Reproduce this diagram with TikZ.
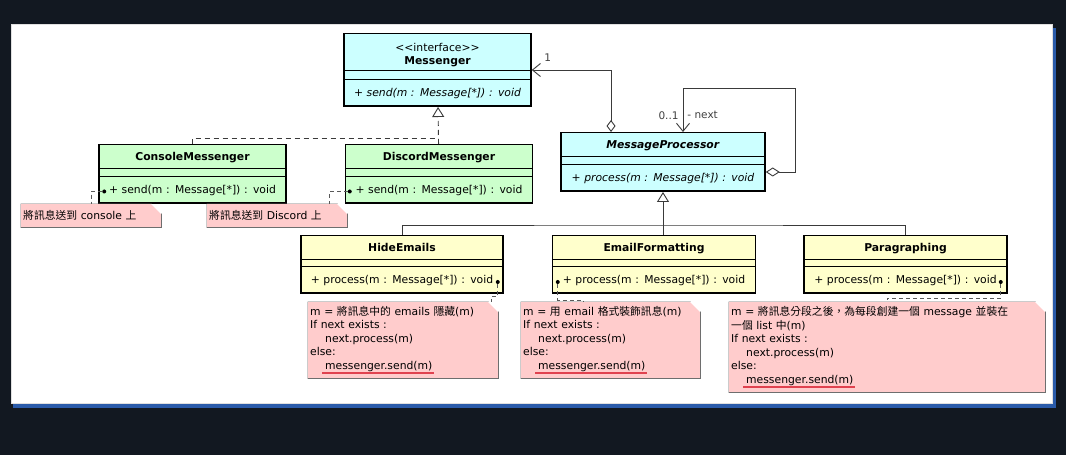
\documentclass[tikz,border=0pt]{standalone}
\usepackage{fontspec}
\setmainfont{DejaVu Sans}
\newfontfamily\hanfont{Noto Sans CJK TC}
\usetikzlibrary{positioning,shapes.multipart,arrows.meta}

\definecolor{pagebg}{HTML}{121821}
\definecolor{panelblue}{HTML}{2A5BAA}
\definecolor{ifacefill}{HTML}{CCFFFF}
\definecolor{implfill}{HTML}{CCFFCC}
\definecolor{procfill}{HTML}{FFFFCC}
\definecolor{notefill}{HTML}{FFCCCC}
\definecolor{notedraw}{HTML}{6E6E6E}
\definecolor{linkgray}{HTML}{3A3A3A}
\definecolor{squiggle}{HTML}{E0424F}

\newcommand\hdstrut{\rule[-7pt]{0pt}{22pt}}
\newcommand\opstrut{\rule[-8.5pt]{0pt}{25pt}}
\newsavebox\markbox
\newcommand\redmark[1]{\sbox\markbox{#1}\rlap{\kern-3pt\textcolor{squiggle}{\rule[-5pt]{\dimexpr\wd\markbox+5pt\relax}{2pt}}}\usebox\markbox}

\begin{document}
\begin{tikzpicture}[x=1pt, y=1pt, node distance=48pt,
  cls/.style={rectangle split, rectangle split parts=3, rectangle split draw splits=false,
    draw=black, line width=1.5pt, text width=#1, align=center, inner xsep=0pt, inner ysep=0pt,
    font=\fontsize{10.8}{13}\selectfont},
  sepline/.style={draw=black, line width=0.7pt},
  dot/.style={circle, fill=black, inner sep=0pt, minimum size=4pt},
  link/.style={draw=linkgray, line width=0.9pt},
  realize/.style={link, dash pattern=on 5pt off 4pt},
  notelink/.style={draw=black!65, line width=0.8pt, dash pattern=on 4pt off 3pt},
  mult/.style={inner sep=0pt, text=black!75, font=\fontsize{10.5}{12}\selectfont},
  note/.style={fill=notefill, align=left, anchor=north west, inner xsep=2pt, inner ysep=0pt,
    font=\fontsize{10.8}{13.5}\selectfont,
    path picture={\fill[white] ([xshift=-10pt]path picture bounding box.north east) -- (path picture bounding box.north east) -- ([yshift=-10pt]path picture bounding box.north east) -- cycle;},
    append after command={\pgfextra{\draw[draw=notedraw, line width=0.8pt]
      (\tikzlastnode.north west) -- ([xshift=-10pt]\tikzlastnode.north east) -- ([yshift=-10pt]\tikzlastnode.north east) -- (\tikzlastnode.south east) -- (\tikzlastnode.south west) -- cycle
      ([xshift=-10pt]\tikzlastnode.north east) |- ([yshift=-10pt]\tikzlastnode.north east);}}}]

% backdrop
\fill[pagebg] (0,0) rectangle (1066,455);
\fill[panelblue] (13,47) rectangle (1056,427);
\filldraw[fill=white, draw=black!12, line width=0.6pt] (11,52) rectangle (1052,431);

% interface and its implementations
\node[cls=187pt, fill=ifacefill, anchor=north] (msgr) at (437.5,422)
  {\rule{0pt}{17pt}<{}<interface>{}>\\\textbf{Messenger}\rule[-5pt]{0pt}{5pt}\nodepart{two}\rule{0pt}{8pt}\nodepart{three}\opstrut\textit{+ send(m : Message[*]) : void}};
\node[cls=187pt, fill=implfill, anchor=north] (console) at (192.5,311)
  {\hdstrut\textbf{ConsoleMessenger}\nodepart{two}\rule{0pt}{7pt}\nodepart{three}\opstrut+ send(m : Message[*]) : void};
\node[cls=187pt, fill=implfill, right=58pt of console] (discord)
  {\hdstrut\textbf{DiscordMessenger}\nodepart{two}\rule{0pt}{7pt}\nodepart{three}\opstrut+ send(m : Message[*]) : void};

% processor chain
\node[cls=204pt, fill=ifacefill, anchor=north] (mp) at (663,323)
  {\hdstrut\textbf{\textit{MessageProcessor}}\nodepart{two}\rule{0pt}{7pt}\nodepart{three}\opstrut\textit{+ process(m : Message[*]) : void}};
\node[cls=202pt, fill=procfill, anchor=north] (hide) at (402,220)
  {\hdstrut\textbf{HideEmails}\nodepart{two}\rule{0pt}{6pt}\nodepart{three}\opstrut+ process(m : Message[*]) : void};
\node[cls=203pt, fill=procfill, right=of hide] (email)
  {\hdstrut\textbf{EmailFormatting}\nodepart{two}\rule{0pt}{6pt}\nodepart{three}\opstrut+ process(m : Message[*]) : void};
\node[cls=203pt, fill=procfill, right=47pt of email] (para)
  {\hdstrut\textbf{Paragraphing}\nodepart{two}\rule{0pt}{6pt}\nodepart{three}\opstrut+ process(m : Message[*]) : void};

\draw[sepline] (msgr.text split west) -- (msgr.text split east) (msgr.two split west) -- (msgr.two split east);
\draw[sepline] (console.text split west) -- (console.text split east) (console.two split west) -- (console.two split east);
\draw[sepline] (discord.text split west) -- (discord.text split east) (discord.two split west) -- (discord.two split east);
\draw[sepline] (mp.text split west) -- (mp.text split east) (mp.two split west) -- (mp.two split east);
\draw[sepline] (hide.text split west) -- (hide.text split east) (hide.two split west) -- (hide.two split east);
\draw[sepline] (email.text split west) -- (email.text split east) (email.two split west) -- (email.two split east);
\draw[sepline] (para.text split west) -- (para.text split east) (para.two split west) -- (para.two split east);

% note anchors on the methods
\node[dot] (consdot) at ([shift={(6pt,12.5pt)}]console.south west) {};
\node[dot] (discdot) at ([shift={(5pt,12.5pt)}]discord.south west) {};
\node[dot] (hidedot) at ([shift={(-6pt,12pt)}]hide.south east) {};
\node[dot] (emaildot) at ([shift={(6pt,12pt)}]email.south west) {};
\node[dot] (paradot) at ([shift={(-7pt,12pt)}]para.south east) {};

% notes
\node[note, text width=136pt, minimum height=23pt] (consnote) at (21,251) {{\hanfont 將訊息送到} console {\hanfont 上}};
\node[note, text width=136pt, minimum height=23pt] (discnote) at (207,251) {{\hanfont 將訊息送到} Discord {\hanfont 上}};
\node[note, text width=186pt, minimum height=76pt] (hidenote) at (308,153)
  {m = {\hanfont 將訊息中的} emails {\hanfont 隱藏}(m)\\If next exists :\\\hspace*{15pt}next.process(m)\\else:\\\hspace*{15pt}\redmark{messenger.send(m)}};
\node[note, text width=175pt, minimum height=76pt] (emailnote) at (521,153)
  {m = {\hanfont 用} email {\hanfont 格式裝飾訊息}(m)\\If next exists :\\\hspace*{15pt}next.process(m)\\else:\\\hspace*{15pt}\redmark{messenger.send(m)}};
\node[note, text width=312pt, minimum height=90pt] (paranote) at (729,153)
  {m = {\hanfont 將訊息分段之後，為每段創建一個} message {\hanfont 並裝在}\\{\hanfont 一個} list {\hanfont 中}(m)\\If next exists :\\\hspace*{15pt}next.process(m)\\else:\\\hspace*{15pt}\redmark{messenger.send(m)}};

% realization
\coordinate (msgrjoin) at ([yshift=-31pt]msgr.south);
\draw[realize, -{Triangle[open, length=10pt, width=12pt]}] (discord) -- (msgr);
\draw[realize] (console) |- (msgrjoin);

% associations
\draw[link, {Diamond[open, length=12pt, width=9pt]}-{Straight Barb[length=8pt, width=13pt]}] ([xshift=-52pt]mp.north) |- (msgr)
  node[mult, pos=0.9, above=8pt] (onemult) {1};
\draw[link, {Diamond[open, length=14pt, width=9pt]}-{Straight Barb[length=8pt, width=13pt]}] ([yshift=-10pt]mp.east) -- ++(30,0) -- ++(0,84) -| ([xshift=20pt]mp.north)
  node[mult, pos=0.81, left=4pt] (nextmult) {0..1}
  node[mult, pos=0.81, right=4pt] (nextrole) {- next};

% generalization
\coordinate (mpjoin) at ([yshift=-33pt]mp.south);
\draw[link, -{Triangle[open, length=10pt, width=12pt]}] (email.north -| mp.south) -- (mp);
\draw[link] (hide) |- (mpjoin) -| (para);

% note links
\draw[notelink] (consdot) -| (consnote);
\draw[notelink] (discdot) -| ([xshift=52pt]discnote.north);
\draw[notelink] (hidedot) -- ++(0,-14) -| ([xshift=-7pt]hidenote.north east);
\draw[notelink] (emaildot) -- ++(0,-18) -| ([xshift=62pt]emailnote.north west);
\draw[notelink] (paradot) -- ++(0,-16) -| ([xshift=158pt]paranote.north west);
\end{tikzpicture}
\end{document}
